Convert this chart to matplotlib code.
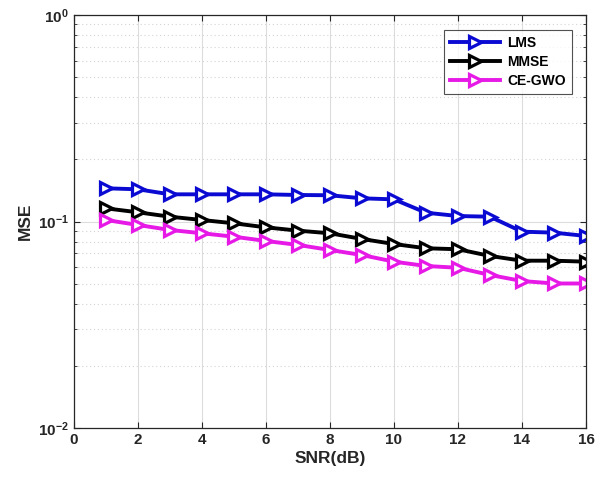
import matplotlib
matplotlib.use("Agg")
import matplotlib.pyplot as plt
from matplotlib.ticker import LogLocator, NullFormatter, FixedLocator, FuncFormatter
import math

snr = list(range(1, 17))
lms = [0.1448, 0.1432, 0.1354, 0.1354, 0.1354, 0.1354, 0.1344, 0.1340,
       0.1295, 0.1280, 0.1103, 0.1063, 0.1055, 0.0893, 0.0883, 0.0851]
mmse = [0.1158, 0.1108, 0.1055, 0.1017, 0.0980, 0.0937, 0.0903, 0.0877,
        0.0823, 0.0778, 0.0742, 0.0734, 0.0681, 0.0646, 0.0646, 0.0639]
cegwo = [0.1017, 0.0962, 0.0910, 0.0877, 0.0844, 0.0805, 0.0770, 0.0728,
         0.0688, 0.0639, 0.0609, 0.0597, 0.0551, 0.0515, 0.0501, 0.0501]
xticks = [0, 2, 4, 6, 8, 10, 12, 14, 16]

plt.rcParams['font.family'] = ['Liberation Sans', 'DejaVu Sans']
plt.rcParams['font.weight'] = 'bold'
plt.rcParams['mathtext.fontset'] = 'custom'
plt.rcParams['mathtext.rm'] = 'Liberation Sans:bold'
plt.rcParams['mathtext.bf'] = 'Liberation Sans:bold'
plt.rcParams['mathtext.it'] = 'Liberation Sans:bold'

fig = plt.figure(figsize=(6.01, 4.82), dpi=100)
ax = fig.add_axes([0.1231, 0.112, 0.975 - 0.1231, 0.9689 - 0.112])

styles = [(lms, '#0a0ad2', 'LMS'), (mmse, 'black', 'MMSE'), (cegwo, '#e619e6', 'CE-GWO')]
for data, col, lab in styles:
    ax.semilogy(snr, data, color=col, lw=2.8, marker='>', ms=8.5,
                mfc='white', mec=col, mew=2.3, label=lab)

ax.set_xlim(0, 16)
ax.set_ylim(1e-2, 1e0)
ax.xaxis.set_major_locator(FixedLocator(xticks))
ax.set_xticklabels([str(t) for t in xticks])
ax.yaxis.set_major_locator(LogLocator(base=10, numticks=10))
ax.yaxis.set_major_formatter(FuncFormatter(
    lambda v, p: r'$\mathbf{10^{%d}}$' % int(round(math.log10(v)))))
ax.yaxis.set_minor_locator(LogLocator(base=10, subs=range(2, 10), numticks=20))
ax.yaxis.set_minor_formatter(NullFormatter())

ax.grid(True, which='major', color='#dcdcdc', lw=0.8, ls='-')
ax.grid(True, which='minor', axis='y', color='#d4d4d4', lw=0.8, ls=(0, (1, 2.5)))
ax.set_axisbelow(True)

ax.tick_params(which='both', direction='in', top=True, right=True, colors='#262626')
ax.tick_params(which='major', length=4, width=0.8, labelsize=11, labelcolor='#262626')
ax.tick_params(which='minor', length=2, width=0.6)
for sp in ax.spines.values():
    sp.set_color('#262626')
    sp.set_linewidth(0.9)

ax.set_xlabel('SNR(dB)', fontsize=12.5, fontweight='bold', color='#262626', labelpad=3)
ax.set_ylabel('MSE', fontsize=12.5, fontweight='bold', color='#262626', labelpad=4)

leg = ax.legend(loc='upper right', bbox_to_anchor=(0.973, 0.964), borderaxespad=0,
                fontsize=10, handlelength=3.6, frameon=True, fancybox=False,
                edgecolor='#262626', borderpad=0.45, labelspacing=0.35, handletextpad=0.5)
leg.get_frame().set_linewidth(0.8)
for t in leg.get_texts():
    t.set_fontweight('bold')

fig.savefig('out.png', dpi=100)
